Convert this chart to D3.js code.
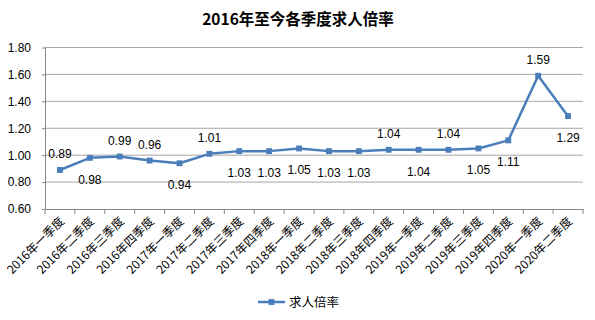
<!DOCTYPE html>
<html>
<head>
<meta charset="utf-8">
<script src="https://cdn.jsdelivr.net/npm/d3@7"></script>
<style>
  body { margin: 0; background: #fff; }
  svg { display: block; font-family: "Liberation Sans", "Noto Sans CJK SC", sans-serif; }
</style>
</head>
<body>
<div id="chart"></div>
<script>
const categories = [
    '2016年一季度', '2016年二季度', '2016年三季度', '2016年四季度',
    '2017年一季度', '2017年二季度', '2017年三季度', '2017年四季度',
    '2018年一季度', '2018年二季度', '2018年三季度', '2018年四季度',
    '2019年一季度', '2019年二季度', '2019年三季度', '2019年四季度',
    '2020年一季度', '2020年二季度'
];
const values = [0.89, 0.98, 0.99, 0.96, 0.94, 1.01, 1.03, 1.03, 1.05, 1.03, 1.03, 1.04, 1.04, 1.04, 1.05, 1.11, 1.59, 1.29];
// label above (1) or below (-1) the point
const labelSide = [1, -1, 1, 1, -1, 1, -1, -1, -1, -1, -1, 1, -1, 1, -1, -1, 1, -1];
const yTicks = [0.6, 0.8, 1.0, 1.2, 1.4, 1.6, 1.8];
const seriesName = '求人倍率';
const title = '2016年至今各季度求人倍率';

const width = 595;
const height = 320;
const margin = { top: 47.5, bottom: 111, left: 45, right: 12 };
const color = '#4a7ebb';

const svg = d3.select('#chart')
    .append('svg')
    .attr('width', width)
    .attr('height', height);

const x = d3.scaleBand()
    .domain(categories)
    .range([margin.left, width - margin.right]);

const y = d3.scaleLinear()
    .domain([0.6, 1.8])
    .range([height - margin.bottom, margin.top]);

// title
svg.append('text')
    .attr('x', 298)
    .attr('y', 25)
    .attr('text-anchor', 'middle')
    .attr('font-family', '"Noto Sans CJK SC", sans-serif')
    .attr('font-weight', 'bold')
    .attr('font-size', '15.5px')
    .attr('fill', '#000')
    .text(title);

// grid
svg.append('g')
    .selectAll('line')
    .data(yTicks.slice(1))
    .join('line')
    .attr('x1', margin.left)
    .attr('x2', width - margin.right)
    .attr('y1', d => y(d))
    .attr('y2', d => y(d))
    .attr('stroke', '#a6a6a6')
    .attr('stroke-width', 1);

// y axis
const yAxis = svg.append('g')
    .attr('transform', `translate(${margin.left},0)`)
    .call(d3.axisLeft(y).tickValues(yTicks).tickFormat(d3.format('.2f')).tickSize(3).tickSizeOuter(0));
yAxis.select('.domain').attr('stroke', '#868686');
yAxis.selectAll('.tick line').attr('stroke', '#868686');
yAxis.selectAll('.tick text')
    .attr('font-size', '12px')
    .attr('fill', '#000')
    .attr('x', -14)
    .attr('font-family', '"Liberation Sans", sans-serif');

// x axis
const xAxis = svg.append('g')
    .attr('transform', `translate(0,${y(0.6)})`)
    .call(d3.axisBottom(x).tickSize(0).tickSizeOuter(0).tickFormat(''));
xAxis.select('.domain').attr('stroke', '#868686');

svg.append('g')
    .selectAll('line')
    .data(categories.concat(['end']))
    .join('line')
    .attr('x1', (d, i) => margin.left + i * x.bandwidth())
    .attr('x2', (d, i) => margin.left + i * x.bandwidth())
    .attr('y1', y(0.6))
    .attr('y2', y(0.6) + 5)
    .attr('stroke', '#868686');

svg.append('g')
    .selectAll('text')
    .data(categories)
    .join('text')
    .attr('transform', d => `translate(${x(d) + x.bandwidth() / 2 + 5},${y(0.6) + 13}) rotate(-45)`)
    .attr('text-anchor', 'end')
    .attr('font-family', '"Noto Sans CJK SC", sans-serif')
    .attr('font-size', '12px')
    .attr('fill', '#000')
    .text(d => d);

// line
const cx = (d, i) => x(categories[i]) + x.bandwidth() / 2;
const line = d3.line()
    .x(cx)
    .y(d => y(d));

svg.append('path')
    .datum(values)
    .attr('d', line)
    .attr('fill', 'none')
    .attr('stroke', color)
    .attr('stroke-width', 2.5)
    .attr('stroke-linejoin', 'round');

const diamond = d3.symbol().type(d3.symbolDiamond2).size(44);

svg.append('g')
    .selectAll('path')
    .data(values)
    .join('path')
    .attr('d', diamond)
    .attr('transform', (d, i) => `translate(${cx(d, i)},${y(d)}) rotate(45)`)
    .attr('fill', color);

svg.append('g')
    .selectAll('text')
    .data(values)
    .join('text')
    .attr('x', cx)
    .attr('y', (d, i) => y(d) + (labelSide[i] > 0 ? -12 : 26))
    .attr('text-anchor', 'middle')
    .attr('font-size', '12px')
    .attr('fill', '#000')
    .text(d => d.toFixed(2));

// legend
const legend = svg.append('g').attr('transform', 'translate(258,302)');
legend.append('line')
    .attr('x1', 0).attr('x2', 27)
    .attr('stroke', color).attr('stroke-width', 2.5);
legend.append('path')
    .attr('d', diamond)
    .attr('transform', 'translate(13.5,0) rotate(45)')
    .attr('fill', color);
legend.append('text')
    .attr('x', 31)
    .attr('y', 5)
    .attr('font-family', '"Noto Sans CJK SC", sans-serif')
    .attr('font-size', '12.5px')
    .attr('fill', '#000')
    .text(seriesName);
</script>
</body>
</html>
